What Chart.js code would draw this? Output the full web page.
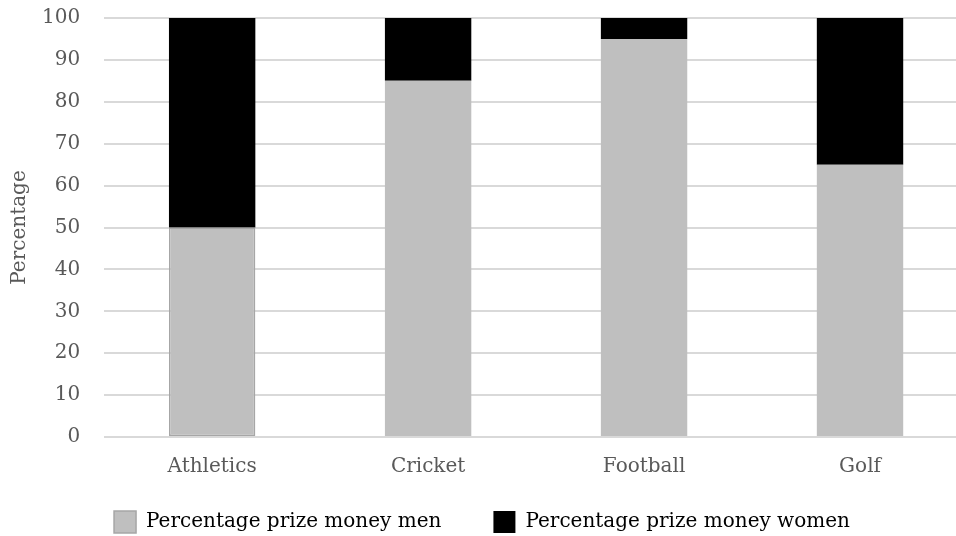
<!DOCTYPE html>
<html>
<head>
<meta charset="utf-8">
<script src="https://cdn.jsdelivr.net/npm/chart.js@4"></script>
<style>
  html, body { margin: 0; padding: 0; background: #fff; overflow: hidden; }
  #wrap { width: 968px; height: 536px; position: relative; }
</style>
</head>
<body>
<div id="wrap"><canvas id="myChart"></canvas></div>
<script>
// data
const sports = ["Athletics", "Cricket", "Football", "Golf"];
const menShare = [50, 85, 95, 65];
const womenShare = [50, 15, 5, 35];
const yTicks = [0, 10, 20, 30, 40, 50, 60, 70, 80, 90, 100];

const serif = "'DejaVu Serif', serif";
const legendGap = 52;

// the legend uses a wide gap between its two items; chart.js also puts that gap
// above the items, so pull the box up again after layout (and let it reach the bottom).
// canvas is a little wider than the window (picture is cropped right), so shift it left too
const legendNudge = {
  id: "legendNudge",
  afterLayout(chart) {
    const lg = chart.legend;
    if (!lg) return;
    lg.top -= legendGap - 22;
    lg.bottom = chart.height + 20;
    lg.height = lg.bottom - lg.top;
    lg.left -= 6;
    lg.right -= 6;
  },
};

document.addEventListener("DOMContentLoaded", () => {
  const canvas = document.getElementById("myChart");

  new Chart(canvas, {
    type: "bar",
    data: {
      labels: sports,
      datasets: [
        {
          label: "Percentage prize money men",
          data: menShare,
          backgroundColor: "#bfbfbf",
          // only the first bar has the thin darker outline
          borderColor: ["#a6a6a6", "#bfbfbf", "#bfbfbf", "#bfbfbf"],
          borderWidth: [1.5, 0, 0, 0],
          borderSkipped: false,
        },
        {
          label: "Percentage prize money women",
          data: womenShare,
          backgroundColor: "#000000",
        },
      ],
    },
    plugins: [legendNudge],
    options: {
      responsive: true,
      maintainAspectRatio: false,
      animation: false,
      layout: { padding: { top: 18, right: 0, bottom: -7, left: 8 } },
      plugins: {
        legend: {
          position: "bottom",
          maxHeight: 54,
          labels: {
            color: "#000",
            font: { family: serif, size: 20 },
            boxWidth: 22,
            boxHeight: 22,
            padding: legendGap,
          },
        },
        tooltip: { enabled: false },
      },
      scales: {
        x: {
          stacked: true,
          grid: { display: false },
          border: { display: false },
          ticks: {
            color: "#595959",
            font: { family: serif, size: 20 },
            padding: 10,
          },
        },
        y: {
          stacked: true,
          min: 0,
          max: 100,
          afterBuildTicks: (axis) => { axis.ticks = yTicks.map(v => ({ value: v })); },
          afterFit: (axis) => { axis.paddingTop = 0; },
          grid: { color: "#d9d9d9", lineWidth: 2, drawTicks: false },
          border: { display: false },
          ticks: {
            color: "#595959",
            font: { family: serif, size: 20 },
            padding: 24,
          },
          title: {
            display: true,
            text: "Percentage",
            color: "#595959",
            font: { family: serif, size: 20 },
            padding: { top: 0, bottom: -14 },
          },
        },
      },
      datasets: { bar: { barPercentage: 0.4, categoryPercentage: 1 } },
    },
  });
});
</script>
</body>
</html>
